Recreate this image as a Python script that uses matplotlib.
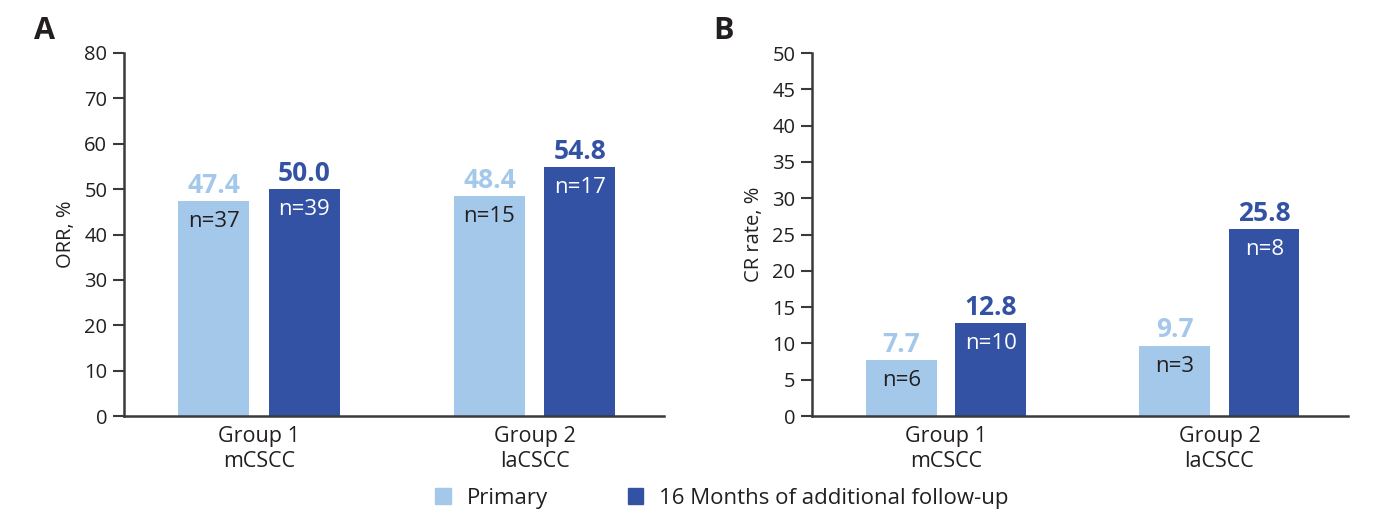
import matplotlib
matplotlib.use("Agg")
import matplotlib.pyplot as plt
from matplotlib.patches import Patch

plt.rcParams['font.family'] = ['Open Sans', 'DejaVu Sans']

groups = ["Group 1\nmCSCC", "Group 2\nlaCSCC"]
series_names = ["Primary", "16 Months of additional follow-up"]
orr_primary = [47.4, 48.4]
orr_followup = [50.0, 54.8]
orr_n_primary = ["n=37", "n=15"]
orr_n_followup = ["n=39", "n=17"]
cr_primary = [7.7, 9.7]
cr_followup = [12.8, 25.8]
cr_n_primary = ["n=6", "n=3"]
cr_n_followup = ["n=10", "n=8"]

light = "#A3C8EA"
dark = "#3352A4"
txt = "#231F20"

fig = plt.figure(figsize=(13.75, 5.2), dpi=100)
axA = fig.add_axes([124/1375, 104/520, 540/1375, 363/520])
axB = fig.add_axes([812/1375, 104/520, 536/1375, 363/520])

W = 0.258
OFF = 0.1636

def panel(ax, prim, fol, nprim, nfol, ymax, step, ylabel, letter, lx, n_off):
    x = list(range(len(groups)))
    ax.bar([i - OFF for i in x], prim, W, color=light)
    ax.bar([i + OFF for i in x], fol, W, color=dark)
    for i in x:
        ax.text(i - OFF, prim[i] + ymax*0.006, f"{prim[i]:.1f}", ha="center", va="bottom",
                fontsize=19, fontweight="bold", color=light)
        ax.text(i + OFF, fol[i] + ymax*0.006, f"{fol[i]:.1f}", ha="center", va="bottom",
                fontsize=19, fontweight="bold", color=dark)
        ax.text(i - OFF, prim[i] - n_off, nprim[i], ha="center", va="top",
                fontsize=16, color=txt)
        ax.text(i + OFF, fol[i] - n_off, nfol[i], ha="center", va="top",
                fontsize=16, color="white")
    ax.set_xlim(-0.49, 1.47)
    ax.set_ylim(0, ymax)
    ax.set_yticks(range(0, ymax + 1, step))
    ax.set_xticks(x)
    ax.set_xticklabels(groups, fontsize=15.5, color=txt, linespacing=1.25)
    ax.tick_params(axis="x", length=0, pad=7)
    ax.tick_params(axis="y", length=8, width=1.5, color="#3a3a3a", labelsize=14.5,
                   labelcolor=txt, pad=4)
    for s in ["top", "right"]:
        ax.spines[s].set_visible(False)
    for s in ["left", "bottom"]:
        ax.spines[s].set_linewidth(1.8)
        ax.spines[s].set_color("#3a3a3a")
    ax.set_ylabel(ylabel, fontsize=14.5, color=txt, labelpad=6)
    fig.text(lx, 0.94, letter, fontsize=22, fontweight="bold", color=txt, ha="left", va="center")

panel(axA, orr_primary, orr_followup, orr_n_primary, orr_n_followup, 80, 10, "ORR, %", "A", 34/1375, 2.2)
panel(axB, cr_primary, cr_followup, cr_n_primary, cr_n_followup, 50, 5, "CR rate, %", "B", 713/1375, 1.4)

handles = [Patch(color=light), Patch(color=dark)]
fig.legend(handles, series_names, loc="center", bbox_to_anchor=(0.525, 0.042), ncol=2,
           frameon=False, fontsize=16, handlelength=0.7, handleheight=0.7,
           columnspacing=3.6, handletextpad=0.7, labelcolor=txt)

fig.savefig("out.png", dpi=100)
